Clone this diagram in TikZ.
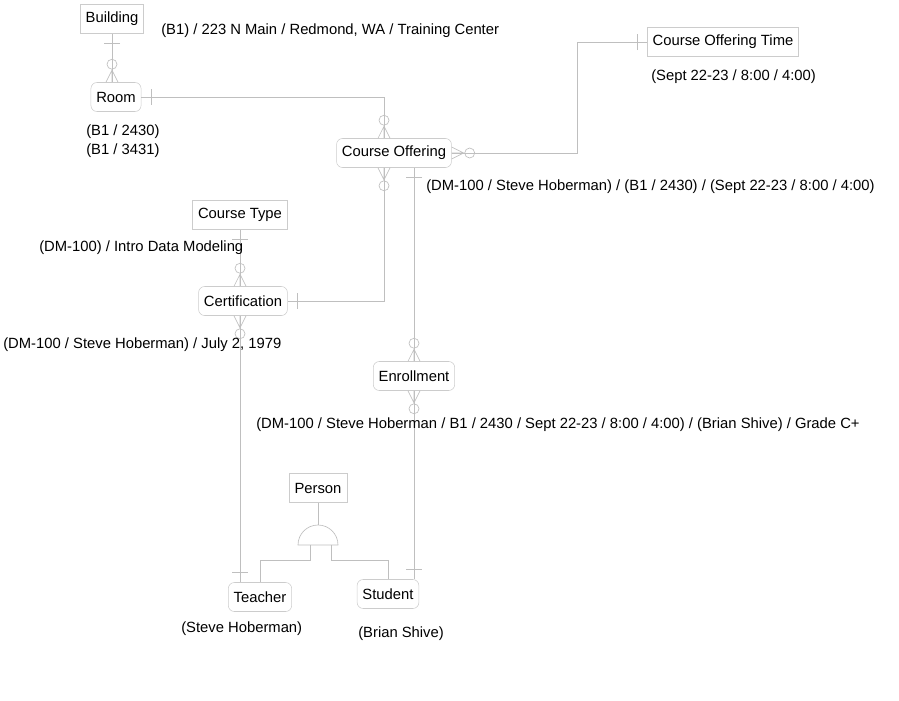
\documentclass[tikz,border=0pt]{standalone}
\usepackage{fontspec}
\setmainfont{Liberation Sans}
\usetikzlibrary{positioning}

\begin{document}
\begin{tikzpicture}[x=0.75pt,y=-0.75pt,font=\fontsize{11.1}{13}\selectfont]
  \tikzstyle{ent}=[draw=black!20,minimum height=21.75pt,inner xsep=4pt]
  \tikzstyle{dep}=[ent,rounded corners=4.5pt]
  \tikzstyle{rel}=[draw=black!25,line width=0.5pt]
  \tikzstyle{lbl}=[anchor=west,inner sep=0pt]
  \tikzset{
    pics/zeromany/.style={code={\draw[rel] (0,-6) -- (12,0) -- (0,6) (0,0) -- (12,0) (18,0) circle (5);}},
    pics/onebar/.style={code={\draw[rel] (10,-8) -- (10,8);}}
  }
  \useasboundingbox (0,0) rectangle (899,700);

  \node[ent] (bldg) at (112,19) {Building};
  \node[dep] (room) at (116,97) {Room};
  \node[ent] (cotime) at (723,42) {Course Offering Time};
  \node[dep] (co) at (394,153) {Course Offering};
  \node[ent] (ctype) at (240,215) {Course Type};
  \node[dep] (cert) at (243,301) {Certification};
  \node[dep] (enr) at (414,376) {Enrollment};
  \node[ent] (person) at (318,488) {Person};
  \node[dep] (teacher) at (260,597) {Teacher};
  \node[dep] (student) at (388,594) {Student};
  \coordinate (sub) at (318,545);
  \coordinate (cotop) at ([xshift=-7.5pt]co.north);
  \coordinate (cobot) at ([xshift=-7.5pt]co.south);
  \coordinate (cobot2) at ([xshift=15pt]co.south);

  \draw[rel] (bldg.south) -- (bldg.south |- room.north);
  \pic[rotate=-90] at (bldg.south) {onebar};
  \pic[rotate=90] at (bldg.south |- room.north) {zeromany};

  \draw[rel] (room.east) -| (cotop);
  \pic at (room.east) {onebar};
  \pic[rotate=90] at (cotop) {zeromany};

  \draw[rel] (co.east) -- ++(126,0) |- (cotime.west);
  \pic[rotate=180] at (cotime.west) {onebar};
  \pic at (co.east) {zeromany};

  \draw[rel] (cobot) |- (cert.east);
  \pic[rotate=-90] at (cobot) {zeromany};
  \pic at (cert.east) {onebar};

  \draw[rel] (cobot2) -- (enr.north);
  \pic[rotate=-90] at (cobot2) {onebar};
  \pic[rotate=90] at (enr.north) {zeromany};

  \draw[rel] (ctype.south) -- (ctype.south |- cert.north);
  \pic[rotate=-90] at (ctype.south) {onebar};
  \pic[rotate=90] at (ctype.south |- cert.north) {zeromany};

  \draw[rel] (ctype.south |- cert.south) -- (ctype.south |- teacher.north);
  \pic[rotate=-90] at (ctype.south |- cert.south) {zeromany};
  \pic[rotate=90] at (ctype.south |- teacher.north) {onebar};

  \draw[rel] (enr.south) -- (enr.south |- student.north);
  \pic[rotate=-90] at (enr.south) {zeromany};
  \pic[rotate=90] at (enr.south |- student.north) {onebar};

  \draw[rel] (person.south) -- ([yshift=15pt]sub);
  \draw[rel] ([xshift=-15pt]sub) arc (180:360:20) -- cycle;
  \draw[rel] ([xshift=-6pt]sub) -- ++(0,15) -| (teacher.north);
  \draw[rel] ([xshift=9.75pt]sub) -- ++(0,15) -| (student.north);

  \node[lbl] (bldgtxt) at (161,31) {(B1) / 223 N Main / Redmond, WA / Training Center};
  \node[lbl] (roomtxt1) at (86,132) {(B1 / 2430)};
  \node[lbl] (roomtxt2) at (86,151) {(B1 / 3431)};
  \node[lbl] (cotimetxt) at (651,77) {(Sept 22-23 / 8:00 / 4:00)};
  \node[lbl] (cotxt) at (426,187) {(DM-100 / Steve Hoberman) / (B1 / 2430) / (Sept 22-23 / 8:00 / 4:00)};
  \node[lbl] (ctypetxt) at (39,248) {(DM-100) / Intro Data Modeling};
  \node[lbl] (certtxt) at (3,345) {(DM-100 / Steve Hoberman) / July 2, 1979};
  \node[lbl] (enrtxt) at (256,425) {(DM-100 / Steve Hoberman / B1 / 2430 / Sept 22-23 / 8:00 / 4:00) / (Brian Shive) / Grade C+};
  \node[lbl] (teachtxt) at (181,629) {(Steve Hoberman)};
  \node[lbl] (studtxt) at (358,634) {(Brian Shive)};
\end{tikzpicture}
\end{document}
